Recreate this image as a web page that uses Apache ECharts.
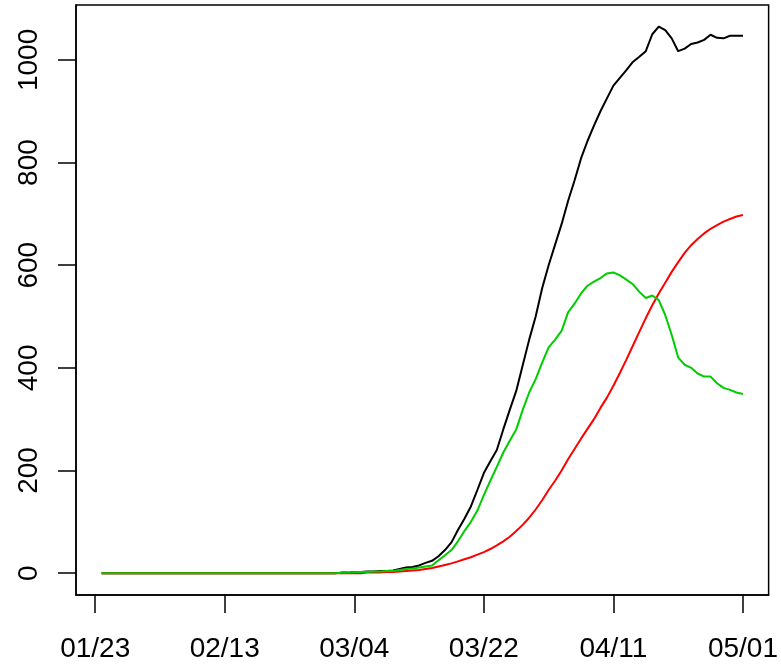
<!DOCTYPE html>
<html>
<head>
<meta charset="utf-8">
<script src="https://cdn.jsdelivr.net/npm/echarts@6/dist/echarts.min.js"></script>
<style>
html,body{margin:0;padding:0;background:#fff;}
#chart{width:781px;height:664px;}
</style>
</head>
<body>
<div id="chart"></div>
<script>
// Day index (1..100) for each observation
const dayIndex = [
  1,2,3,4,5,6,7,8,9,10,
  11,12,13,14,15,16,17,18,19,20,
  21,22,23,24,25,26,27,28,29,30,
  31,32,33,34,35,36,37,38,39,40,
  41,42,43,44,45,46,47,48,49,50,
  51,52,53,54,55,56,57,58,59,60,
  61,62,63,64,65,66,67,68,69,70,
  71,72,73,74,75,76,77,78,79,80,
  81,82,83,84,85,86,87,88,89,90,
  91,92,93,94,95,96,97,98,99,100
];

// Black series
const blackValues = [
  0,0,0,0,0,0,0,0,0,0,
  0,0,0,0,0,0,0,0,0,0,
  0,0,0,0,0,0,0,0,0,0,
  0,0,0,0,0,0,0,1,1,2,
  2,3,3,4,4,5,8,11,12,15,
  20,24,33,45,60,84,106,130,162,195,
  218,240,280,318,355,405,455,500,555,600,
  640,680,725,765,808,842,872,900,925,950,
  965,980,996,1006,1017,1050,1065,1058,1042,1017,
  1022,1031,1034,1039,1049,1043,1042,1047,1047,1047
];

// Red series
const redValues = [
  0,0,0,0,0,0,0,0,0,0,
  0,0,0,0,0,0,0,0,0,0,
  0,0,0,0,0,0,0,0,0,0,
  0,0,0,0,0,0,0,0,0,0,
  0,1,1,1,2,2,3,4,5,6,
  8,10,13,16,19,23,27,31,36,41,
  47,54,62,71,82,94,108,124,142,162,
  180,200,222,242,262,281,300,322,342,365,
  390,416,443,470,497,522,545,566,587,606,
  624,639,651,662,671,678,685,690,695,698
];

// Green series
const greenValues = [
  0,0,0,0,0,0,0,0,0,0,
  0,0,0,0,0,0,0,0,0,0,
  0,0,0,0,0,0,0,0,0,0,
  0,0,0,0,0,0,0,1,1,2,
  2,2,3,3,4,4,6,8,9,11,
  13,15,25,35,45,62,82,100,122,152,
  180,207,235,258,280,318,352,378,410,440,
  455,472,508,525,545,560,568,575,584,586,
  580,572,563,548,536,541,532,503,464,420,
  406,400,389,383,383,370,361,357,352,349
];

// Axis ticks
const xTickValues = [0,20,40,60,80,100];
const xTickLabels = ['01/23','02/13','03/04','03/22','04/11','05/01'];
const yTickValues = [0,200,400,600,800,1000];

function pairs(vals){ return dayIndex.map((d,k)=>[d, vals[k]]); }

const chart = echarts.init(document.getElementById('chart'), null, {renderer:'canvas'});
const font = 'Liberation Sans, Arial, Helvetica, sans-serif';
chart.setOption({
  animation:false,
  backgroundColor:'#fff',
  grid:{left:76, top:5, right:9, bottom:69, show:true, borderColor:'#000', borderWidth:1.5},
  xAxis:{
    type:'value', min:-2.96, max:103.96,
    splitLine:{show:false},
    axisLine:{show:true, onZero:false, lineStyle:{color:'#000', width:1.5}},
    axisTick:{show:true, customValues:xTickValues, length:18, lineStyle:{color:'#000', width:1.5}},
    axisLabel:{customValues:xTickValues, color:'#000', fontSize:28, fontFamily:font, margin:40,
      formatter:function(v){ const k = xTickValues.indexOf(v); return k>=0 ? xTickLabels[k] : ''; }}
  },
  yAxis:{
    type:'value', min:-42.6, max:1107,
    splitLine:{show:false},
    axisLine:{show:true, onZero:false, lineStyle:{color:'#000', width:1.5}},
    axisTick:{show:true, customValues:yTickValues, length:18, lineStyle:{color:'#000', width:1.5}},
    axisLabel:{customValues:yTickValues, color:'#000', fontSize:28, fontFamily:font, margin:33, rotate:90,
      formatter:function(v){ return String(v); }}
  },
  series:[
    {type:'line', data:pairs(blackValues), showSymbol:false, lineStyle:{color:'#000000', width:2}, itemStyle:{color:'#000000'}, z:2},
    {type:'line', data:pairs(redValues), showSymbol:false, lineStyle:{color:'#FF0000', width:2}, itemStyle:{color:'#FF0000'}, z:3},
    {type:'line', data:pairs(greenValues), showSymbol:false, lineStyle:{color:'#00CD00', width:2}, itemStyle:{color:'#00CD00'}, z:4}
  ]
});
</script>
</body>
</html>
